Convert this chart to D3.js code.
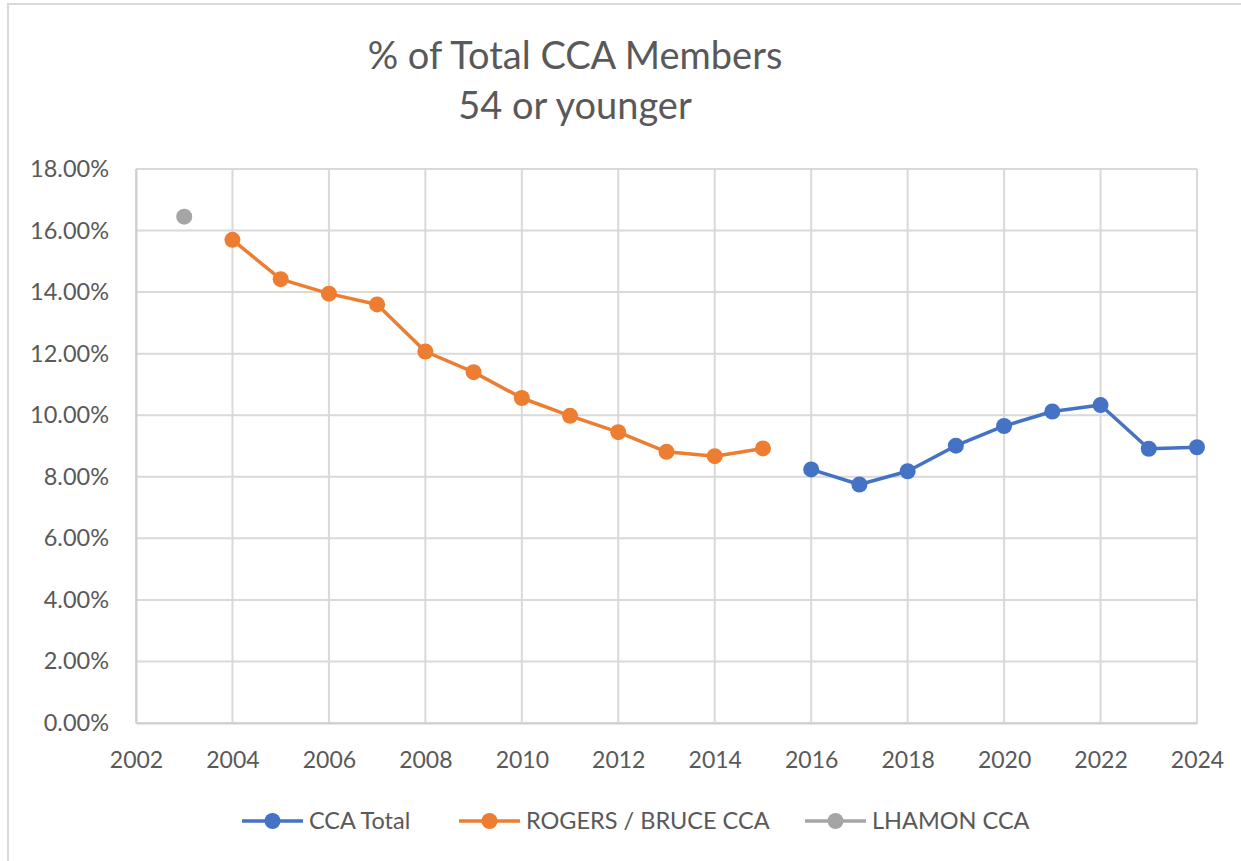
<!DOCTYPE html>
<html>
<head>
<meta charset="utf-8">
<style>
  body { margin: 0; background: #fff; }
  text { font-family: Lato, "Open Sans", sans-serif; fill: #595959; }
</style>
</head>
<body>
<svg width="1241" height="861"></svg>
<script src="https://d3js.org/d3.v7.min.js"></script>
<script>

// data
var ccaYears = [2016, 2017, 2018, 2019, 2020, 2021, 2022, 2023, 2024];
var ccaTotal = [8.24, 7.75, 8.18, 9.01, 9.65, 10.12, 10.33, 8.91, 8.96];

var rogersYears = [2004, 2005, 2006, 2007, 2008, 2009, 2010, 2011, 2012, 2013, 2014, 2015];
var rogersBruce = [15.70, 14.42, 13.95, 13.60, 12.07, 11.40, 10.56, 9.98, 9.45, 8.81, 8.67, 8.92];

var lhamonYears = [2003];
var lhamon = [16.45];

var xTicks = [2002, 2004, 2006, 2008, 2010, 2012, 2014, 2016, 2018, 2020, 2022, 2024];
var yTicks = [0, 2, 4, 6, 8, 10, 12, 14, 16, 18];

var seriesNames = ["CCA Total", "ROGERS / BRUCE CCA", "LHAMON CCA"];
var seriesColors = ["#4472C4", "#ED7D31", "#A5A5A5"];

var svg = d3.select("svg"),
    margin = {top: 169, right: 44, bottom: 138, left: 136},
    width = +svg.attr("width") - margin.left - margin.right,
    height = +svg.attr("height") - margin.top - margin.bottom;

// chart frame (only top and left edges visible in the picture)
svg.append("rect")
    .attr("x", 8).attr("y", 4)
    .attr("width", 1300).attr("height", 900)
    .attr("fill", "none")
    .attr("stroke", "#d9d9d9")
    .attr("stroke-width", 2);

var g = svg.append("g").attr("transform", "translate(" + margin.left + "," + margin.top + ")");

var x = d3.scaleLinear().domain([2002, 2024]).range([0, width]);
var y = d3.scaleLinear().domain([0, 18]).range([height, 0]);

// gridlines
g.append("g")
  .selectAll("line.h")
  .data(yTicks)
  .join("line")
    .attr("x1", 0).attr("x2", width)
    .attr("y1", function(d) { return y(d); })
    .attr("y2", function(d) { return y(d); })
    .attr("stroke", "#d9d9d9")
    .attr("stroke-width", 2);

g.append("g")
  .selectAll("line.v")
  .data(xTicks)
  .join("line")
    .attr("x1", function(d) { return x(d); })
    .attr("x2", function(d) { return x(d); })
    .attr("y1", 0).attr("y2", height)
    .attr("stroke", "#d9d9d9")
    .attr("stroke-width", 2);

// axes
g.append("g")
    .attr("transform", "translate(0," + height + ")")
    .call(d3.axisBottom(x).tickValues(xTicks).tickFormat(d3.format("d")).tickSize(0).tickPadding(29))
    .call(function(a) { a.select(".domain").attr("stroke", "#cfcfcf").attr("stroke-width", 2); })
    .selectAll("text")
      .style("font-size", "23px")
      .attr("fill", "#595959");

g.append("g")
    .call(d3.axisLeft(y).tickValues(yTicks).tickFormat(function(d) { return d.toFixed(2) + "%"; }).tickSize(0).tickPadding(27))
    .call(function(a) { a.select(".domain").attr("stroke", "#cfcfcf").attr("stroke-width", 2); })
    .selectAll("text")
      .style("font-size", "23.5px")
      .attr("fill", "#595959");

var line = d3.line()
    .x(function(d) { return x(d[0]); })
    .y(function(d) { return y(d[1]); });

var series = [
  d3.zip(ccaYears, ccaTotal),
  d3.zip(rogersYears, rogersBruce),
  d3.zip(lhamonYears, lhamon)
];

series.forEach(function(s, i) {
  g.append("path")
      .datum(s)
      .attr("fill", "none")
      .attr("stroke", seriesColors[i])
      .attr("stroke-width", 3.5)
      .attr("stroke-linejoin", "round")
      .attr("d", line);

  g.append("g")
    .selectAll("circle")
    .data(s)
    .join("circle")
      .attr("cx", function(d) { return x(d[0]); })
      .attr("cy", function(d) { return y(d[1]); })
      .attr("r", 8)
      .attr("fill", seriesColors[i]);
});

// title
var title = svg.append("text")
    .attr("x", 575)
    .attr("y", 69)
    .attr("text-anchor", "middle")
    .style("font-size", "38px");
title.append("tspan").attr("x", 575).text("% of Total CCA Members");
title.append("tspan").attr("x", 575).attr("dy", 50).text("54 or younger");

// legend
var legendX = [242, 459, 805];
var legend = svg.append("g").attr("transform", "translate(0,821)");

seriesNames.forEach(function(name, i) {
  var lg = legend.append("g").attr("transform", "translate(" + legendX[i] + ",0)");
  lg.append("line")
      .attr("x1", 0).attr("x2", 61)
      .attr("stroke", seriesColors[i])
      .attr("stroke-width", 3.5);
  lg.append("circle")
      .attr("cx", 30.5).attr("r", 8)
      .attr("fill", seriesColors[i]);
  lg.append("text")
      .attr("x", 67)
      .attr("dy", "0.35em")
      .style("font-size", "23.5px")
      .text(name);
});

</script>
</body>
</html>
